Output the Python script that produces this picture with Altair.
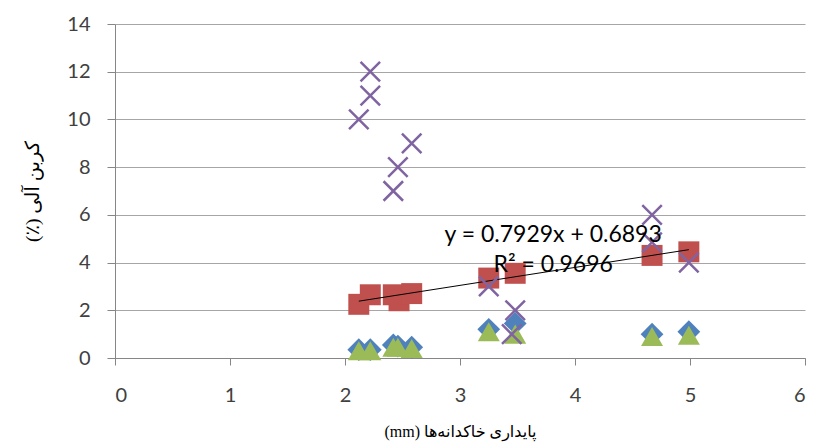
import altair as alt
import pandas as pd

# Series values
blue_x = [2.12, 2.22, 2.42, 2.46, 2.58, 3.25, 3.48, 4.67, 4.99]
blue_y = [0.35, 0.35, 0.55, 0.5, 0.45, 1.2, 1.45, 1.0, 1.1]

red_x = [2.12, 2.22, 2.42, 2.47, 2.58, 3.25, 3.48, 4.67, 4.99]
red_y = [2.25, 2.65, 2.65, 2.4, 2.7, 3.35, 3.55, 4.3, 4.45]

green_x = [2.12, 2.22, 2.42, 2.46, 2.58, 3.25, 3.48, 4.67, 4.99]
green_y = [0.3, 0.3, 0.45, 0.45, 0.4, 1.1, 1.0, 0.9, 0.95]

purple_x = [2.12, 2.22, 2.22, 2.42, 2.46, 2.58, 3.25, 3.48, 3.45, 4.67, 4.67, 4.99]
purple_y = [10, 12, 11, 7, 8, 9, 3, 2, 1, 6, 4.85, 4]

eq_labels = ["y = 0.7929x + 0.6893", "R² = 0.9696"]
eq_x = [3.81, 3.81]
eq_y = [5.15, 3.9]

x_ticks = [0, 1, 2, 3, 4, 5, 6]
y_ticks = [0, 2, 4, 6, 8, 10, 12, 14]

# bidi marks so the right-to-left titles are laid out as in the original
x_title = "\u202bپایداری خاکدانه‌ها (mm)\u202c"
y_title = "\u200fکربن آلی (٪)\u200f"

blue_df = pd.DataFrame({"x": blue_x, "y": blue_y})
red_df = pd.DataFrame({"x": red_x, "y": red_y})
green_df = pd.DataFrame({"x": green_x, "y": green_y})
purple_df = pd.DataFrame({"x": purple_x, "y": purple_y})
eq_df = pd.DataFrame({"x": eq_x, "y": eq_y, "t": eq_labels})

xs = alt.Scale(domain=[0, 6], nice=False)
ys = alt.Scale(domain=[0, 14], nice=False)

X = alt.X("x:Q", scale=xs, title=x_title,
          axis=alt.Axis(values=x_ticks, grid=False, tickSize=7, labelPadding=20,
                        titlePadding=18, format="d", titleFontSize=16))
Y = alt.Y("y:Q", scale=ys, title=y_title,
          axis=alt.Axis(values=y_ticks, grid=True, tickSize=8, labelPadding=17,
                        titlePadding=24, format="d", titleFontSize=19.5))

blue = alt.Chart(blue_df).mark_point(
    shape="diamond", filled=True, size=520, color="#4F81BD", opacity=1
).encode(x=X, y=Y)

red = alt.Chart(red_df).mark_point(
    shape="square", filled=True, size=440, color="#C0504D", opacity=1
).encode(x=X, y=Y)

green = alt.Chart(green_df).mark_point(
    shape="triangle-up", filled=True, size=484, color="#9BBB59", opacity=1
).encode(x=X, y=Y)

purple = alt.Chart(purple_df).mark_point(
    shape="M-1,-1L1,1M-1,1L1,-1", filled=False, size=380, color="#8064A2",
    strokeWidth=2.5, opacity=1
).encode(x=X, y=Y)

trend = alt.Chart(red_df).transform_regression("x", "y").mark_line(
    color="black", strokeWidth=1
).encode(x=X, y=Y)

eq = alt.Chart(eq_df).mark_text(
    font="Lato", fontSize=23, color="#000000", align="center", baseline="middle"
).encode(x=X, y=Y, text="t:N")

chart = alt.layer(blue, red, green, trend, purple, eq).properties(
    width=690, height=334,
    autosize=alt.AutoSizeParams(type="none"),
    padding={"left": 115, "top": 24, "right": 8, "bottom": 87},
).configure_view(stroke=None).configure_axis(
    domainColor="#868686", tickColor="#868686", gridColor="#A6A6A6",
    labelFont="Lato", labelFontSize=20, labelColor="#404040",
    titleFont="Liberation Serif, DejaVu Sans",
    titleFontWeight="normal", titleColor="#000000",
)

chart.save("out.html", embed_options={"renderer": "svg", "actions": False})
